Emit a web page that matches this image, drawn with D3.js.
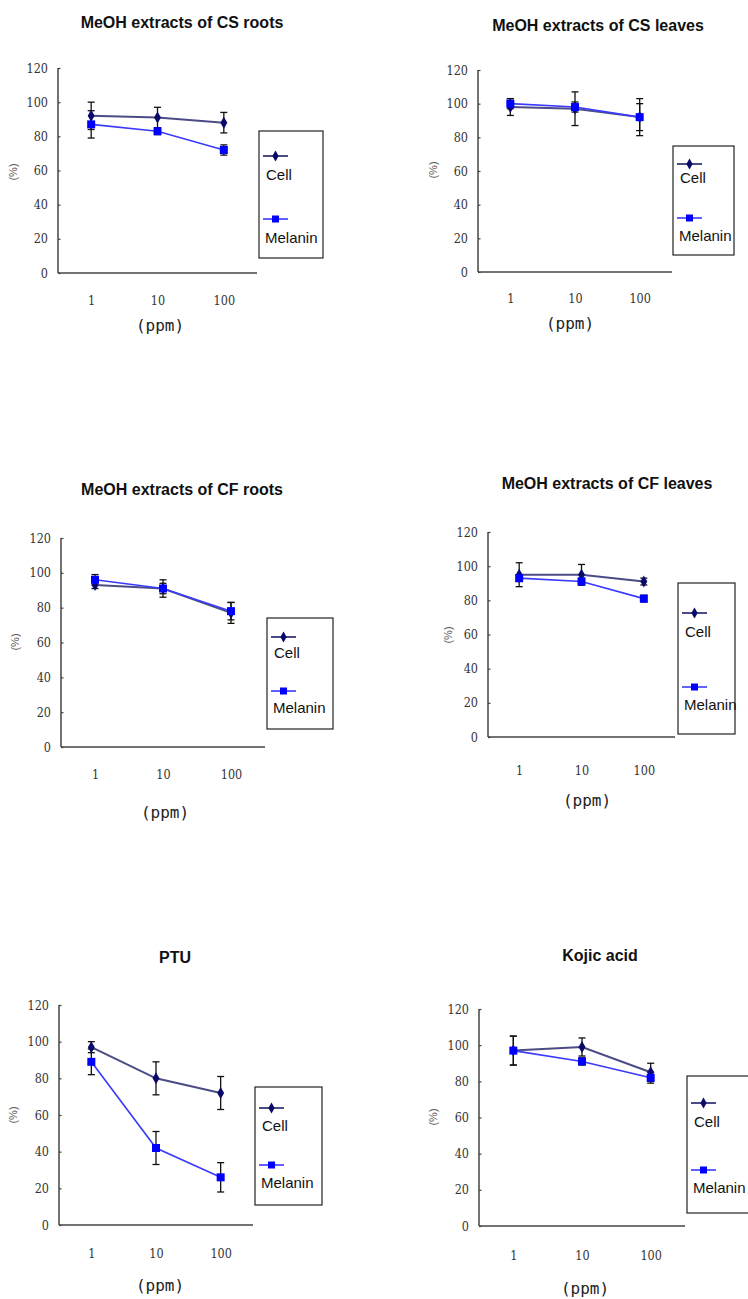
<!DOCTYPE html>
<html><head><meta charset="utf-8">
<script src="https://cdn.jsdelivr.net/npm/d3@7"></script>
<style>
body{margin:0;background:#fff;}
svg{display:block;}
</style></head>
<body>
<svg id="chart" width="748" height="1299"></svg>
<script>
// ---- data ----
const concentrations = ["1", "10", "100"];
const yTicks = [0, 20, 40, 60, 80, 100, 120];
const seriesNames = ["Cell", "Melanin"];
const titles = ["MeOH extracts of CS roots", "MeOH extracts of CS leaves",
                "MeOH extracts of CF roots", "MeOH extracts of CF leaves",
                "PTU", "Kojic acid"];
const cellValues = [[92, 91, 88], [98, 97, 92], [93, 91, 77], [95, 95, 91], [97, 80, 72], [97, 99, 85]];
const cellErrors = [[8, 6, 6], [5, 10, 8], [2, 5, 6], [7, 6, 2], [3, 9, 9], [8, 5, 5]];
const melaninValues = [[87, 83, 72], [100, 98, 92], [96, 91, 78], [93, 91, 81], [89, 42, 26], [97, 91, 82]];
const melaninErrors = [[8, 2, 3], [3, 3, 11], [3, 3, 5], [2, 2, 2], [7, 9, 8], [8, 2, 3]];

// ---- layout (pixels) ----
const layout = [
  {x0:58, x1:257, yTop:68, yBot:273, titleX:182, titleY:28, tickY:305, ppmX:160, ppmY:331, pctX:17, pctY:172,
   lg:{x:259, y:131, w:64, h:127, l1:156, t1:180, l2:219, t2:243}},
  {x0:478, x1:672, yTop:70, yBot:272, titleX:598, titleY:31, tickY:303, ppmX:570, ppmY:329, pctX:437, pctY:170,
   lg:{x:673, y:146, w:61, h:109, l1:164, t1:183, l2:218, t2:241}},
  {x0:61, x1:265, yTop:538, yBot:747, titleX:182, titleY:495, tickY:779, ppmX:165, ppmY:818, pctX:19, pctY:642,
   lg:{x:267, y:618, w:66, h:111, l1:637, t1:658, l2:691, t2:713}},
  {x0:488, x1:675, yTop:532, yBot:737, titleX:607, titleY:489, tickY:775, ppmX:587, ppmY:806, pctX:452, pctY:635,
   lg:{x:678, y:583, w:57, h:151, l1:613, t1:637, l2:687, t2:710}},
  {x0:59, x1:253, yTop:1005, yBot:1225, titleX:175, titleY:963, tickY:1258, ppmX:160, ppmY:1291, pctX:17, pctY:1115,
   lg:{x:255, y:1087, w:67, h:118, l1:1108, t1:1131, l2:1165, t2:1188}},
  {x0:479, x1:685, yTop:1009, yBot:1226, titleX:600, titleY:961, tickY:1260, ppmX:585, ppmY:1294, pctX:437, pctY:1117,
   lg:{x:687, y:1076, w:70, h:137, l1:1103, t1:1127, l2:1170, t2:1193}}
];

const cellLine = "#4b4b86", cellMark = "#0a0a6a";
const melLine = "#3a3aff", melMark = "#0000ff";
const tickFont = "DejaVu Serif Condensed, Liberation Serif, DejaVu Serif, serif";

const svg = d3.select("#chart");

titles.forEach((title, i) => {
  const L = layout[i];
  const g = svg.append("g");
  const x = d3.scalePoint().domain(concentrations).range([L.x0, L.x1]).padding(0.5);
  const y = d3.scaleLinear().domain([0, 120]).range([L.yBot, L.yTop]);

  // title
  g.append("text").attr("x", L.titleX).attr("y", L.titleY).attr("text-anchor", "middle")
    .attr("font-family", "Liberation Sans, Arial, sans-serif").attr("font-weight", "bold")
    .attr("font-size", 16).attr("fill", "#111").text(title);

  // y axis
  const yAxis = d3.axisLeft(y).tickValues(yTicks).tickSize(-2.5).tickPadding(9);
  const ya = g.append("g").attr("transform", `translate(${L.x0},0)`).call(yAxis);
  ya.select(".domain").attr("stroke", "#444").attr("stroke-width", 1.5).attr("d", `M0,${L.yTop}V${L.yBot}`);
  ya.selectAll(".tick line").attr("stroke", "#444").attr("stroke-width", 1.2);
  ya.selectAll(".tick text").attr("font-family", tickFont)
    .attr("font-size", 12.5).attr("fill", "#333").attr("x", -10);

  // x axis
  const xAxis = d3.axisBottom(x).tickSize(0).tickPadding(0);
  const xa = g.append("g").attr("transform", `translate(0,${L.yBot})`).call(xAxis);
  xa.select(".domain").attr("stroke", "#444").attr("stroke-width", 1.5).attr("d", `M${L.x0},0H${L.x1}`);
  xa.selectAll(".tick text").attr("font-family", tickFont)
    .attr("font-size", 12.5).attr("fill", "#333").attr("dy", null).attr("y", L.tickY - L.yBot);

  // axis labels
  g.append("text").attr("x", L.ppmX).attr("y", L.ppmY).attr("text-anchor", "middle")
    .attr("font-family", "DejaVu Sans Mono, Liberation Mono, monospace").attr("font-size", 16)
    .attr("fill", "#222").text("(ppm)");
  g.append("text").attr("transform", `translate(${L.pctX},${L.pctY}) rotate(-90)`).attr("text-anchor", "middle")
    .attr("font-family", "Liberation Sans, Arial, sans-serif").attr("font-size", 11)
    .attr("fill", "#555").text("(%)");

  const series = [
    {vals: cellValues[i], errs: cellErrors[i], line: cellLine, mark: cellMark, shape: "circle", lw: 2},
    {vals: melaninValues[i], errs: melaninErrors[i], line: melLine, mark: melMark, shape: "square", lw: 1.6}
  ];
  // error bars
  series.forEach(s => {
    const eg = g.append("g");
    concentrations.forEach((c, k) => {
      const cx = x(c), yt = y(s.vals[k] + s.errs[k]), yb = y(s.vals[k] - s.errs[k]);
      eg.append("line").attr("x1", cx).attr("x2", cx).attr("y1", yt).attr("y2", yb).attr("stroke", "#111").attr("stroke-width", 1.3);
      eg.append("line").attr("x1", cx - 3.5).attr("x2", cx + 3.5).attr("y1", yt).attr("y2", yt).attr("stroke", "#111").attr("stroke-width", 1.3);
      eg.append("line").attr("x1", cx - 3.5).attr("x2", cx + 3.5).attr("y1", yb).attr("y2", yb).attr("stroke", "#111").attr("stroke-width", 1.3);
    });
  });
  // lines + markers
  series.forEach(s => {
    const line = d3.line().x((d, k) => x(concentrations[k])).y(d => y(d));
    g.append("path").datum(s.vals).attr("d", line).attr("fill", "none")
      .attr("stroke", s.line).attr("stroke-width", s.lw);
  });
  series.forEach(s => {
    s.vals.forEach((v, k) => {
      const cx = x(concentrations[k]), cy = y(v);
      if (s.shape === "circle") {
        g.append("path").attr("d", d3.symbol(d3.symbolDiamond, 42)()).attr("transform", `translate(${cx},${cy})`).attr("fill", s.mark);
      } else {
        g.append("rect").attr("x", cx - 4).attr("y", cy - 4).attr("width", 8).attr("height", 8).attr("fill", s.mark);
      }
    });
  });

  // legend
  const lg = L.lg;
  g.append("rect").attr("x", lg.x).attr("y", lg.y).attr("width", lg.w).attr("height", lg.h)
    .attr("fill", "#fff").attr("stroke", "#222").attr("stroke-width", 1.2);
  const lx1 = lg.x + 4, lx2 = lg.x + 29, lmid = (lx1 + lx2) / 2;
  g.append("line").attr("x1", lx1).attr("x2", lx2).attr("y1", lg.l1).attr("y2", lg.l1).attr("stroke", cellLine).attr("stroke-width", 2);
  g.append("path").attr("d", d3.symbol(d3.symbolDiamond, 34)()).attr("transform", `translate(${lmid},${lg.l1})`).attr("fill", cellMark);
  g.append("line").attr("x1", lx1).attr("x2", lx2).attr("y1", lg.l2).attr("y2", lg.l2).attr("stroke", melLine).attr("stroke-width", 1.6);
  g.append("rect").attr("x", lmid - 3.5).attr("y", lg.l2 - 3.5).attr("width", 7).attr("height", 7).attr("fill", melMark);
  g.append("text").attr("x", lg.x + 7).attr("y", lg.t1).attr("font-family", "Liberation Sans, Arial, sans-serif")
    .attr("font-size", 15).attr("fill", "#111").text(seriesNames[0]);
  g.append("text").attr("x", lg.x + 6).attr("y", lg.t2).attr("font-family", "Liberation Sans, Arial, sans-serif")
    .attr("font-size", 15).attr("fill", "#111").text(seriesNames[1]);
});
</script>
</body></html>
